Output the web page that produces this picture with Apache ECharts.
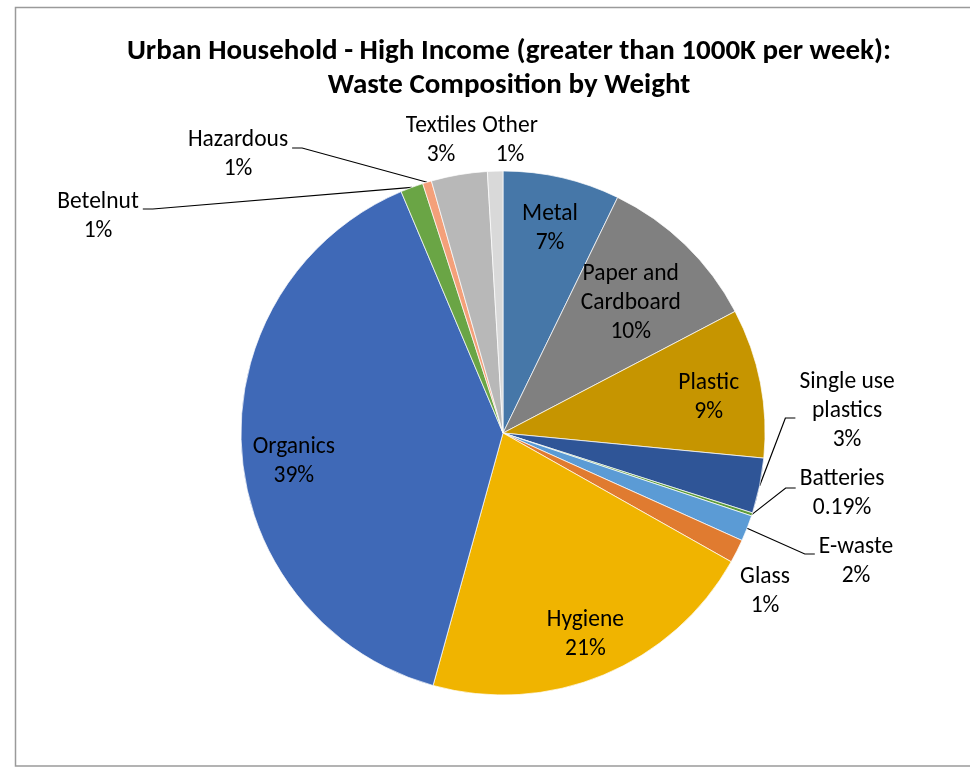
<!DOCTYPE html>
<html>
<head>
<meta charset="utf-8">
<script src="https://cdn.jsdelivr.net/npm/echarts@6/dist/echarts.min.js"></script>
<style>
  html, body { margin: 0; padding: 0; background: #fff; }
  #chart { width: 970px; height: 767px; }
</style>
</head>
<body>
<div id="chart"></div>
<script>
// Waste categories, clockwise from 12 o'clock
const categories = ['Metal', 'Paper and\nCardboard', 'Plastic', 'Single use\nplastics', 'Batteries',
  'E-waste', 'Glass', 'Hygiene', 'Organics', 'Betelnut', 'Hazardous', 'Textiles', 'Other'];
// Share of total weight (%)
const shares = [7.2, 10.1, 9.2, 3.4, 0.19, 1.6, 1.45, 21.1, 39.3, 1.4, 0.55, 3.45, 0.95];
// Slice fills
const colors = ['#4677A8', '#808080', '#C69500', '#2F5597', '#5E9C3A', '#5B9BD5', '#E07B30',
  '#F0B400', '#3F69B7', '#6AA545', '#F4A07A', '#B8B8B8', '#D9D9D9'];

const FONT = 'Carlito, Lato, "Open Sans", sans-serif';
const CX = 503, CY = 433, R = 262;

// Label placement: inside labels sit on the slice bisector at a fraction of the radius;
// outside labels get a fixed anchor and an optional leader line.
const insidePlacement = {
  'Metal': { f: 0.8, dy: 0 },
  'Paper and\nCardboard': { f: 0.7, dy: 2 },
  'Plastic': { f: 0.8, dy: 5 },
  'Hygiene': { f: 0.82, dy: 3 },
  'Organics': { f: 0.8, dy: 15 }
};
const outsidePlacement = {
  'Single use\nplastics': { x: 847, y: 411, line: true, lineDy: 7 },
  'Batteries': { x: 842, y: 494, line: true, lineDy: -6 },
  'E-waste': { x: 856, y: 562, line: true, lineDy: -8 },
  'Glass': { x: 765, y: 592, line: false },
  'Betelnut': { x: 98, y: 217, line: true, lineDy: -8 },
  'Hazardous': { x: 238, y: 155, line: true, lineDy: -7 },
  'Textiles': { x: 441, y: 141, line: false },
  'Other': { x: 510, y: 141, line: false }
};

const total = shares.reduce((a, b) => a + b, 0);
const midAngles = [];
let acc = 0;
shares.forEach(v => {
  midAngles.push(((acc + v / 2) / total) * Math.PI * 2);
  acc += v;
});

function pctText(v) {
  const p = v / total * 100;
  return p < 0.5 ? p.toFixed(2) + '%' : Math.round(p) + '%';
}

const data = categories.map((name, i) => {
  const out = outsidePlacement[name];
  return {
    name: name,
    value: shares[i],
    itemStyle: { color: colors[i] },
    label: { position: out ? 'outside' : 'inside' },
    labelLine: { show: !!(out && out.line) }
  };
});

const chart = echarts.init(document.getElementById('chart'), null, { renderer: 'canvas' });
chart.setOption({
  backgroundColor: '#ffffff',
  animation: false,
  title: {
    text: 'Urban Household - High Income (greater than 1000K per week):\nWaste Composition by Weight',
    left: 504,
    textAlign: 'center',
    top: 30,
    textStyle: { fontFamily: FONT, fontWeight: 'bold', fontSize: 29, lineHeight: 34, color: '#000' }
  },
  graphic: [{
    type: 'rect',
    shape: { x: 15.5, y: 7.5, width: 980, height: 758.5 },
    style: { fill: 'none', stroke: '#9a9a9a', lineWidth: 1.5 },
    silent: true
  }],
  series: [{
    type: 'pie',
    center: [CX, CY],
    radius: R,
    startAngle: 90,
    clockwise: true,
    avoidLabelOverlap: false,
    itemStyle: { borderColor: '#ffffff', borderWidth: 0.7 },
    label: {
      show: true,
      fontFamily: FONT,
      fontSize: 23.5,
      lineHeight: 29,
      color: '#000',
      formatter: p => p.name + '\n' + pctText(p.value)
    },
    labelLine: { lineStyle: { color: '#000', width: 1.2 }, length: 10, length2: 10 },
    labelLayout: function (p) {
      const i = p.dataIndex;
      const name = categories[i];
      const a = midAngles[i];
      const ins = insidePlacement[name];
      if (ins) {
        return {
          x: CX + ins.f * R * Math.sin(a),
          y: CY - ins.f * R * Math.cos(a) + ins.dy,
          align: 'center', verticalAlign: 'middle'
        };
      }
      const o = outsidePlacement[name];
      const res = { x: o.x, y: o.y, align: 'center', verticalAlign: 'middle' };
      if (o.line) {
        const w = p.labelRect.width;
        const p0 = [CX + R * Math.sin(a), CY - R * Math.cos(a)];
        const ly = o.y + o.lineDy;
        const left = o.x < CX;
        const end = left ? o.x + w / 2 + 4 : o.x - w / 2 - 4;
        const elbow = left ? end + 10 : end - 10;
        res.labelLinePoints = [p0, [elbow, ly], [end, ly]];
      }
      return res;
    },
    data: data
  }]
});
</script>
</body>
</html>
